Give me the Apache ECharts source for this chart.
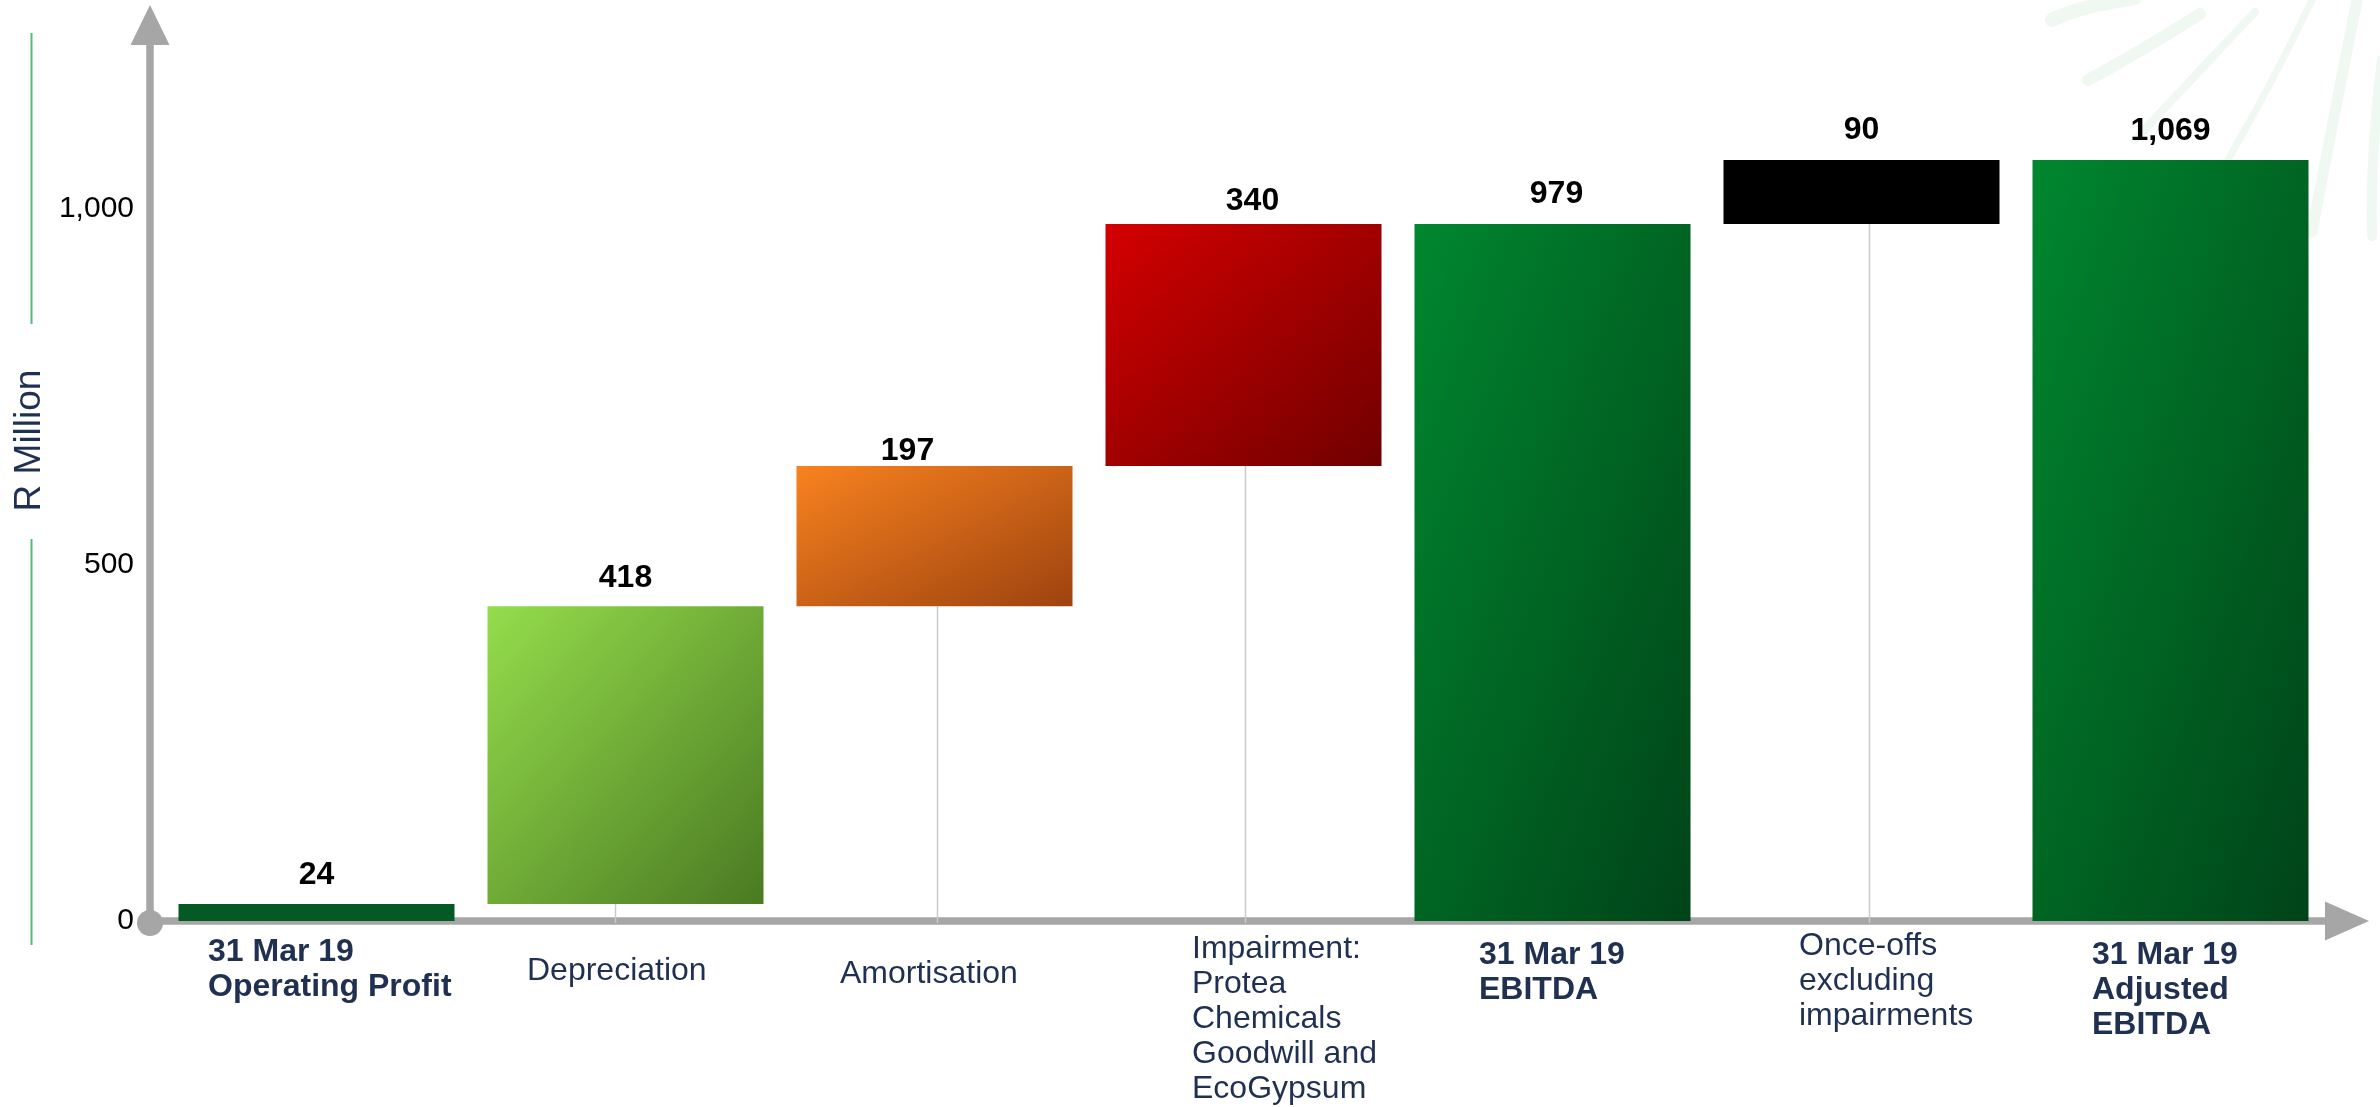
<!DOCTYPE html>
<html>
<head>
<meta charset="utf-8">
<title>Operating profit to adjusted EBITDA bridge</title>
<script src="https://cdn.jsdelivr.net/npm/echarts@6/dist/echarts.min.js"></script>
<style>
  html, body { margin: 0; padding: 0; background: #ffffff; }
  #chart { width: 2380px; height: 1107px; }
</style>
</head>
<body>
<div id="chart"></div>
<script>
// Bridge from operating profit to adjusted EBITDA, year to 31 Mar 19 (R million)
const categories = [
  '31 Mar 19\nOperating Profit',
  'Depreciation',
  'Amortisation',
  'Impairment:\nProtea\nChemicals\nGoodwill and\nEcoGypsum',
  '31 Mar 19\nEBITDA',
  'Once-offs\nexcluding\nimpairments',
  '31 Mar 19\nAdjusted\nEBITDA'
];
const amounts = [24, 418, 197, 340, 979, 90, 1069];
// 'total' bars stand on zero, 'step' bars float on the running total
const barKinds = ['total', 'step', 'step', 'step', 'total', 'step', 'total'];
const yTicks = [0, 500, 1000];

// Running total underneath each floating step
const bases = [];
(function () {
  let running = 0;
  barKinds.forEach(function (kind, i) {
    if (kind === 'total') { bases.push(0); running = amounts[i]; }
    else { bases.push(running); running += amounts[i]; }
  });
})();

// ---- styling ----
const FONT = '"Liberation Sans", Arial, Helvetica, sans-serif';
const NAVY = '#1f3050';
const AXIS_GREY = '#a6a6a6';
const GRID = { left: 162, right: 55, top: 24, bottom: 186 };
const Y_MAX = 1260;
const Y_AXIS_SHIFT = 12;
const BAR_W = 276;

// gradient end colours per bar (top-left, bottom-right)
const barFills = [
  ['#045a25', '#045a25'],
  ['#95dd4c', '#4a7a22'],
  ['#f8821f', '#9e430f'],
  ['#d40000', '#700000'],
  ['#00872f', '#004318'],
  ['#000000', '#000000'],
  ['#00872f', '#004318']
];
const boldCaption = [true, false, false, false, true, false, true];
const captionDx = [-108.5, -98.5, -94.5, -51.5, -73.5, -62.5, -78.5];
const captionDy = [13.5, 32.5, 35.5, 10.5, 16.5, 7.5, 16.5];
const labelDistance = [13, 12, -1, 7, 14, 14, 13];
const labelShift = [[0, 0], [0, 0], [-27, 0], [9, 0], [4, 0], [0, 0], [0, 0]];
const connectorDx = [0, -10, 3, 2, 0, 8, 0];

// Diagonal gradient whose colour bands run parallel to the box's anti-diagonal
function cornerGradient(c0, c1, w, h) {
  const s = w * w + h * h;
  return new echarts.graphic.LinearGradient(0, 0, 2 * h * h / s, 2 * w * w / s, [
    { offset: 0, color: c0 },
    { offset: 1, color: c1 }
  ]);
}

function buildOption(fills, graphics) {
  return {
    animation: false,
    backgroundColor: '#ffffff',
    grid: Object.assign({ containLabel: false, outerBoundsMode: 'none' }, GRID),
    graphic: graphics,
    xAxis: {
      type: 'category',
      data: categories,
      offset: 3,
      axisLine: {
        show: true,
        lineStyle: { color: AXIS_GREY, width: 7.5 },
        symbol: ['none', 'triangle'],
        symbolSize: [39, 44],
        symbolOffset: [0, 22]
      },
      axisTick: { show: false },
      axisLabel: { show: false },
      splitLine: { show: false }
    },
    yAxis: {
      type: 'value',
      min: 0,
      max: Y_MAX,
      interval: 500,
      offset: Y_AXIS_SHIFT,
      name: 'R Million',
      nameLocation: 'middle',
      nameRotate: 90,
      nameGap: 100,
      nameTextStyle: { color: NAVY, fontSize: 37, fontFamily: FONT, padding: [0, 0, 0, 64] },
      axisLine: {
        show: true,
        lineStyle: { color: AXIS_GREY, width: 7.5 },
        symbol: ['none', 'triangle'],
        symbolSize: [39, 40],
        symbolOffset: [0, -1]
      },
      axisTick: { show: false },
      splitLine: { show: false },
      axisLabel: {
        margin: 16,
        color: '#000000',
        fontSize: 30,
        fontFamily: FONT,
        showMaxLabel: false,
        formatter: function (v) { return yTicks.indexOf(v) >= 0 ? v.toLocaleString('en-US') : ''; }
      }
    },
    series: [
      {
        name: 'base',
        type: 'bar',
        stack: 'bridge',
        barWidth: BAR_W,
        silent: true,
        itemStyle: { color: 'rgba(0,0,0,0)' },
        emphasis: { disabled: true },
        data: bases
      },
      {
        name: 'amount',
        type: 'bar',
        stack: 'bridge',
        barWidth: BAR_W,
        emphasis: { disabled: true },
        label: {
          show: true,
          position: 'top',
          color: '#000000',
          fontFamily: FONT,
          fontSize: 32,
          fontWeight: 'bold',
          lineHeight: 32,
          formatter: function (p) { return p.value.toLocaleString('en-US'); }
        },
        data: amounts.map(function (v, i) {
          return {
            value: v,
            itemStyle: { color: fills[i] },
            label: { distance: labelDistance[i], offset: labelShift[i] }
          };
        })
      },
      {
        name: 'connectors',
        type: 'custom',
        silent: true,
        z: 1,
        data: bases.map(function (b, i) { return [i, b]; }).filter(function (d) { return d[1] > 0; }),
        renderItem: function (params, api) {
          const i = api.value(0);
          const top = api.coord([i, api.value(1)]);
          const bottom = api.coord([i, 0]);
          const x = top[0] + connectorDx[i];
          return {
            type: 'line',
            shape: { x1: x, y1: top[1], x2: x, y2: bottom[1] + 2 },
            style: { stroke: '#c9c9c9', lineWidth: 1.5 }
          };
        }
      },
      {
        name: 'captions',
        type: 'custom',
        silent: true,
        data: categories.map(function (c, i) { return [i, 0]; }),
        renderItem: function (params, api) {
          const i = api.value(0);
          const p = api.coord([i, 0]);
          return {
            type: 'text',
            x: p[0] + captionDx[i],
            y: p[1] + captionDy[i],
            style: {
              text: categories[i],
              fill: NAVY,
              font: (boldCaption[i] ? 'bold ' : '') + '32px ' + FONT,
              lineHeight: 35,
              align: 'left',
              verticalAlign: 'top'
            }
          };
        }
      }
    ]
  };
}

const chart = echarts.init(document.getElementById('chart'), null, { renderer: 'canvas' });
chart.setOption(buildOption(barFills.map(function (f) { return f[0]; }), []));

// second pass: size-aware gradients and decorations
const zeroY = chart.convertToPixel({ yAxisIndex: 0 }, 0);
const fills = amounts.map(function (v, i) {
  const h = Math.abs(chart.convertToPixel({ yAxisIndex: 0 }, bases[i] + v) - chart.convertToPixel({ yAxisIndex: 0 }, bases[i]));
  return barFills[i][0] === barFills[i][1] ? barFills[i][0] : cornerGradient(barFills[i][0], barFills[i][1], BAR_W, h);
});
const originX = GRID.left - Y_AXIS_SHIFT;
const splash = '#f0f8f2';
function stroke(x1, y1, cx, cy, x2, y2, w) {
  return {
    type: 'bezierCurve', silent: true, z: -10,
    shape: { x1: x1, y1: y1, cpx1: cx, cpy1: cy, x2: x2, y2: y2 },
    style: { stroke: splash, lineWidth: w, lineCap: 'round', fill: null }
  };
}
const graphics = [
  // leaf watermark, top right
  stroke(2052, 20, 2080, 6, 2135, -2, 14),
  stroke(2088, 80, 2140, 52, 2200, 14, 12),
  stroke(2135, 140, 2200, 70, 2255, 12, 8),
  stroke(2185, 232, 2260, 110, 2312, 0, 7),
  stroke(2358, -5, 2335, 110, 2312, 232, 11),
  stroke(2382, 60, 2370, 150, 2372, 236, 10),
  // rules either side of the axis title
  { type: 'line', silent: true, shape: { x1: 31.5, y1: 33, x2: 31.5, y2: 324 }, style: { stroke: '#55ba7c', lineWidth: 2 } },
  { type: 'line', silent: true, shape: { x1: 31.5, y1: 539, x2: 31.5, y2: 945 }, style: { stroke: '#55ba7c', lineWidth: 2 } },
  // origin knob
  { type: 'circle', silent: true, z: 10, shape: { cx: originX, cy: zeroY + 2, r: 13 }, style: { fill: AXIS_GREY } }
];
chart.setOption(buildOption(fills, graphics));
</script>
</body>
</html>
